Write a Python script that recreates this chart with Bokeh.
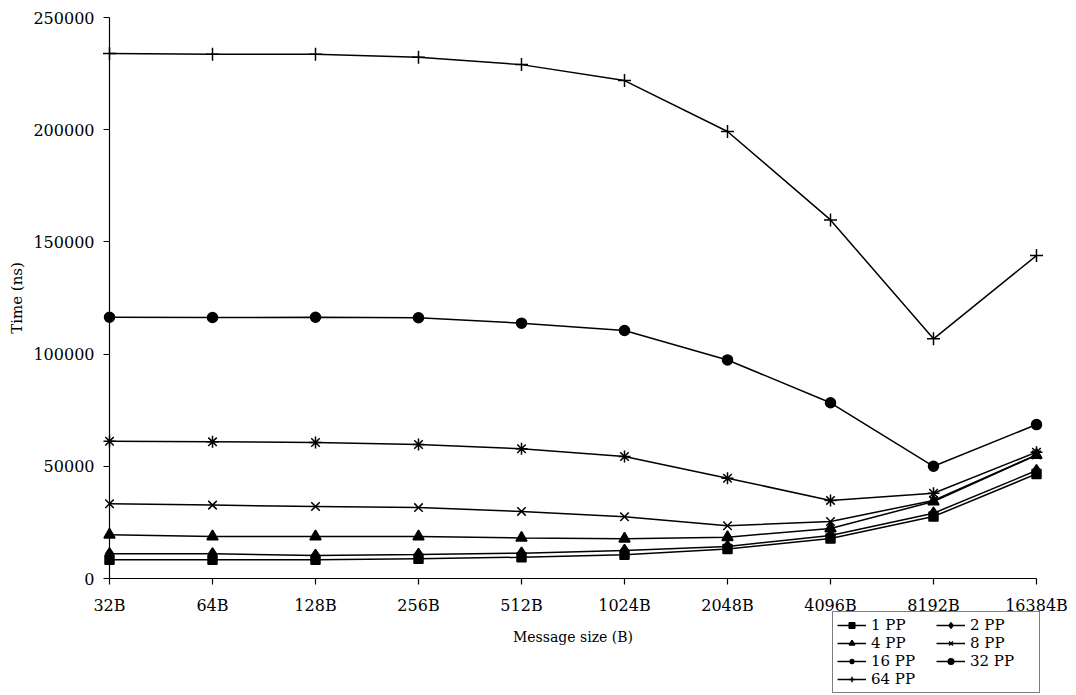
from bokeh.plotting import figure
from bokeh.models import Range1d, FixedTicker, Legend, LegendItem, NumeralTickFormatter
from bokeh.embed import file_html
from bokeh.resources import INLINE

# Message sizes on the x axis
sizes = ["32B", "64B", "128B", "256B", "512B", "1024B", "2048B", "4096B", "8192B", "16384B"]

# Time (ns) per message size, one list per number of process pairs
pp_1 = [8300, 8300, 8300, 8800, 9500, 10600, 13100, 17800, 27600, 46600]
pp_2 = [11000, 11000, 10300, 10700, 11300, 12500, 14300, 19200, 29100, 48100]
pp_4 = [19500, 18700, 18700, 18700, 18100, 17700, 18400, 22300, 34300, 55000]
pp_8 = [33300, 32700, 32100, 31600, 29900, 27500, 23500, 25400, 34800, 55100]
pp_16 = [61200, 60900, 60600, 59700, 57800, 54400, 44700, 34800, 38000, 56300]
pp_32 = [116400, 116300, 116400, 116200, 113800, 110500, 97400, 78300, 50000, 68600]
pp_64 = [234000, 233600, 233600, 232300, 229000, 221900, 199200, 159800, 106800, 143900]

y_ticks = [0, 50000, 100000, 150000, 200000, 250000]

series = [
    ("1 PP", pp_1, "square", 9),
    ("2 PP", pp_2, "diamond", 12),
    ("4 PP", pp_4, "triangle", 11),
    ("8 PP", pp_8, "x", 12),
    ("16 PP", pp_16, "asterisk", 12),
    ("32 PP", pp_32, "circle", 10),
    ("64 PP", pp_64, "cross", 13),
]

FONT = "DejaVu Serif"
W, H = 1076, 695

# Plot area placement in pixels: the axes cross at (AX_X, AX_Y),
# the last category sits at X_END and the top tick at Y_TOP.
AX_X, X_END = 109, 1036
AX_Y, Y_TOP = 578, 17
n = len(sizes)
y_max = y_ticks[-1]

px_per_x = (X_END - AX_X) / (n - 1)
px_per_y = (AX_Y - Y_TOP) / y_max

x_range = Range1d(-AX_X / px_per_x, (W - AX_X) / px_per_x)
y_range = Range1d(-(H - AX_Y) / px_per_y, AX_Y / px_per_y)

p = figure(
    width=W, height=H,
    output_backend="svg", toolbar_location=None,
    x_range=x_range, y_range=y_range,
    min_border=0,
)
p.outline_line_color = None
p.xgrid.visible = False
p.ygrid.visible = False
p.background_fill_color = "white"
p.border_fill_color = "white"

xs = list(range(n))
items = []
for label, vals, marker, size in series:
    ln = p.line(xs, vals, line_color="black", line_width=1.5)
    sc = p.scatter(xs, vals, marker=marker, size=size,
                   fill_color="black", line_color="black", line_width=1.5)
    items.append(LegendItem(label=label, renderers=[ln, sc]))

# Axes, pinned to the origin and bounded to the data extent
xa = p.xaxis[0]
xa.ticker = FixedTicker(ticks=xs)
xa.major_label_overrides = {i: s for i, s in enumerate(sizes)}
xa.bounds = (0, n - 1)
xa.fixed_location = 0
xa.axis_label = "Message size (B)"
xa.major_label_standoff = 11
xa.axis_label_standoff = 11
xa.axis_label_text_font_size = "14px"

ya = p.yaxis[0]
ya.ticker = FixedTicker(ticks=y_ticks)
ya.formatter = NumeralTickFormatter(format="0")
ya.bounds = (0, y_max)
ya.fixed_location = 0
ya.axis_label = "Time (ns)"
ya.major_label_standoff = 9
ya.axis_label_standoff = 4
ya.axis_label_text_font_size = "15px"

for ax in (xa, ya):
    ax.axis_line_color = "black"
    ax.axis_line_width = 1.2
    ax.major_tick_line_color = "black"
    ax.major_tick_line_width = 1.2
    ax.major_tick_out = 6
    ax.major_tick_in = 0
    ax.minor_tick_line_color = None
    ax.major_label_text_font = FONT
    ax.major_label_text_font_size = "16px"
    ax.major_label_text_color = "black"
    ax.axis_label_text_font = FONT
    ax.axis_label_text_font_style = "normal"
    ax.axis_label_text_color = "black"

legend = Legend(
    items=items,
    location=(832, 2),
    orientation="horizontal",
    ncols=2,
    label_text_font=FONT,
    label_text_font_size="15px",
    label_text_color="black",
    glyph_width=29,
    glyph_height=14,
    label_height=14,
    label_width=65,
    label_standoff=5,
    spacing=0,
    padding=4,
    margin=0,
    border_line_color="black",
    border_line_width=1,
    background_fill_color="white",
    background_fill_alpha=1,
)
p.add_layout(legend, "center")

open("out.html", "w").write(file_html(p, INLINE))
